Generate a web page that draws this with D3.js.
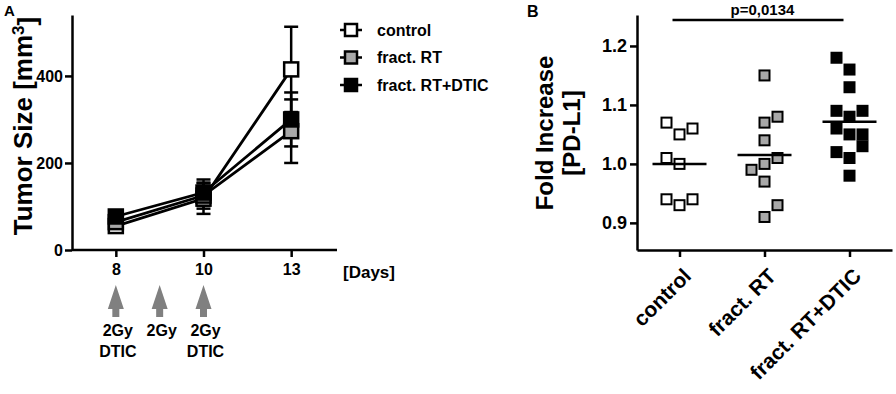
<!DOCTYPE html>
<html>
<head>
<meta charset="utf-8">
<script src="https://cdn.jsdelivr.net/npm/d3@7"></script>
<style>
  body { margin: 0; background: #fff; }
  svg { display: block; font-family: "Liberation Sans", Arial, sans-serif; font-weight: bold; }
  .axis path, .axis line { stroke: #000; stroke-width: 2.5; }
  .axis text { fill: #000; font-weight: bold; }
</style>
</head>
<body>
<svg id="chart" width="896" height="394"></svg>
<script>
// ---- panel A: tumor growth ----
const days = [8, 10, 13];
const groups = ["control", "fract. RT", "fract. RT+DTIC"];
const controlMean = [55, 118, 415];
const controlSem = [8, 35, 98];
const rtMean = [64, 125, 273];
const rtSem = [8, 30, 73];
const rtDticMean = [77, 132, 300];
const rtDticSem = [8, 30, 62];
const tumorTicks = [0, 200, 400];
const treatDays = [8, 9, 10];
const treatLabels = [["2Gy", "DTIC"], ["2Gy"], ["2Gy", "DTIC"]];

// ---- panel B: PD-L1 fold increase, [value, column slot] ----
const controlPts = [[1.07, -1], [1.05, 0], [1.06, 1], [1.01, -1], [1.00, 0], [0.94, -1], [0.93, 0], [0.94, 1]];
const rtPts = [[1.15, 0], [1.07, 0], [1.08, 1], [1.04, 0], [0.99, -1], [1.00, 0], [1.01, 1], [0.97, 0], [0.91, 0], [0.93, 1]];
const rtDticPts = [[1.18, -1], [1.16, 0], [1.13, 0], [1.09, -1], [1.08, 0], [1.09, 1], [1.06, -1], [1.05, 0], [1.05, 1], [1.03, 1], [1.02, -1], [1.01, 0], [0.98, 0]];
const foldTicks = [0.9, 1.0, 1.1, 1.2];
const pValue = "p=0,0134";

const fills = ["#fff", "#a8a8a8", "#000"];
const svg = d3.select("#chart");

// ================= Panel A =================
const gA = svg.append("g");
const xPt = d3.scalePoint().domain(days.map(String)).range([72, 335]).padding(0.5);
const xDay = d3.scaleLinear().domain(days).range(days.map(d => xPt(String(d))));
const yA = d3.scaleLinear().domain([0, 540]).range([250, 15]);

gA.append("g").attr("class", "axis")
  .attr("transform", "translate(72,0)")
  .call(d3.axisLeft(yA).tickValues(tumorTicks).tickSize(7).tickSizeOuter(0))
  .call(g => g.selectAll("text").style("font-size", "16px").attr("x", -9));

gA.append("g").attr("class", "axis")
  .attr("transform", "translate(0,250)")
  .call(d3.axisBottom(xPt).tickSize(7).tickSizeOuter(0))
  .call(g => g.select(".domain").attr("d", "M72,0H337"))
  .call(g => g.selectAll("text").style("font-size", "16px").attr("y", 14));

gA.append("text").attr("x", 343).attr("y", 278).style("font-size", "17px").text("[Days]");
gA.append("text").attr("x", 4).attr("y", 16).style("font-size", "15px").text("A");

const yLabA = gA.append("text")
  .attr("transform", "translate(32,126) rotate(-90)")
  .attr("text-anchor", "middle").style("font-size", "26px");
yLabA.append("tspan").text("Tumor Size [mm");
yLabA.append("tspan").attr("dy", "-0.45em").style("font-size", "17px").text("3");
yLabA.append("tspan").attr("dy", "0.45em").text("]");

const seriesA = [
  { name: groups[0], mean: controlMean, sem: controlSem, fill: fills[0] },
  { name: groups[1], mean: rtMean, sem: rtSem, fill: fills[1] },
  { name: groups[2], mean: rtDticMean, sem: rtDticSem, fill: fills[2] }
];

const line = d3.line().x((d, i) => xDay(days[i])).y(d => yA(d));
const sq = 14;

// error bars first, under everything
seriesA.forEach(s => {
  const g = gA.append("g");
  days.forEach((d, i) => {
    const x = xDay(d);
    const top = yA(s.mean[i] + s.sem[i]);
    const bot = yA(s.mean[i] - s.sem[i]);
    g.append("line").attr("x1", x).attr("x2", x).attr("y1", top).attr("y2", bot)
      .attr("stroke", "#000").attr("stroke-width", 2.5);
    [top, bot].forEach(yy => g.append("line")
      .attr("x1", x - 7).attr("x2", x + 7).attr("y1", yy).attr("y2", yy)
      .attr("stroke", "#000").attr("stroke-width", 2.5));
  });
});

seriesA.forEach(s => {
  const g = gA.append("g");
  g.append("path").datum(s.mean).attr("d", line)
    .attr("fill", "none").attr("stroke", "#000").attr("stroke-width", 2.8);
  g.selectAll("rect").data(s.mean).join("rect")
    .attr("x", (d, i) => xDay(days[i]) - sq / 2)
    .attr("y", d => yA(d) - sq / 2)
    .attr("width", sq).attr("height", sq)
    .attr("fill", s.fill).attr("stroke", "#000").attr("stroke-width", 2.5);
});

// legend
const legY = d3.scalePoint().domain(groups).range([30, 85]);
seriesA.forEach(s => {
  const y = legY(s.name);
  gA.append("line").attr("x1", 340).attr("x2", 362).attr("y1", y).attr("y2", y)
    .attr("stroke", "#000").attr("stroke-width", 2.5);
  gA.append("rect").attr("x", 351 - 6).attr("y", y - 6).attr("width", 12).attr("height", 12)
    .attr("fill", s.fill).attr("stroke", "#000").attr("stroke-width", 2.5);
  gA.append("text").attr("x", 377).attr("y", y).attr("dy", "0.36em")
    .style("font-size", "16px").text(s.name);
});

// treatment arrows
treatDays.forEach((d, i) => {
  const x = xDay(d);
  gA.append("path")
    .attr("d", `M${x},285 L${x + 8},309 L${x + 3.5},309 L${x + 3.5},317 L${x - 3.5},317 L${x - 3.5},309 L${x - 8},309 Z`)
    .attr("fill", "#808080");
  treatLabels[i].forEach((t, j) => {
    gA.append("text").attr("x", x + 2).attr("y", 336 + j * 21)
      .attr("text-anchor", "middle").style("font-size", "16px").text(t);
  });
});

// ================= Panel B =================
const gB = svg.append("g");
const xB = d3.scalePoint().domain(groups).range([637, 892]).padding(0.5);
const yB = d3.scaleLinear().domain([0.854, 1.2525]).range([250, 15]);
const jitter = 13;
const sqB = 10;

gB.append("g").attr("class", "axis")
  .attr("transform", "translate(637,0)")
  .call(d3.axisLeft(yB).tickValues(foldTicks).tickFormat(d3.format(".1f")).tickSize(7).tickSizeOuter(0))
  .call(g => g.selectAll("text").style("font-size", "18px").attr("x", -10));

gB.append("g").attr("class", "axis")
  .attr("transform", "translate(0,250)")
  .call(d3.axisBottom(xB).tickSize(7).tickSizeOuter(0))
  .call(g => g.selectAll("text")
    .style("font-size", "21px")
    .attr("text-anchor", "end")
    .attr("transform", "translate(2,17) rotate(-45)")
    .attr("x", 0).attr("y", 0).attr("dy", "0.7em"));

gB.append("text").attr("x", 527).attr("y", 17).style("font-size", "16px").text("B");

gB.append("text").attr("transform", "translate(553,133) rotate(-90)")
  .attr("text-anchor", "middle").style("font-size", "24px").text("Fold Increase");
gB.append("text").attr("transform", "translate(580,133) rotate(-90)")
  .attr("text-anchor", "middle").style("font-size", "24px").text("[PD-L1]");

// significance bar
gB.append("line").attr("x1", xB(groups[0]) - 7).attr("x2", xB(groups[2]) - 6)
  .attr("y1", 20).attr("y2", 20).attr("stroke", "#000").attr("stroke-width", 2.5);
gB.append("text").attr("x", (xB(groups[0]) + xB(groups[2])) / 2 - 2).attr("y", 15)
  .attr("text-anchor", "middle").style("font-size", "15px").text(pValue);

const seriesB = [
  { name: groups[0], pts: controlPts, fill: fills[0] },
  { name: groups[1], pts: rtPts, fill: fills[1] },
  { name: groups[2], pts: rtDticPts, fill: fills[2] }
];

seriesB.forEach(s => {
  const cx = xB(s.name);
  gB.append("g").selectAll("rect").data(s.pts).join("rect")
    .attr("x", d => cx + d[1] * jitter - sqB / 2)
    .attr("y", d => yB(d[0]) - sqB / 2)
    .attr("width", sqB).attr("height", sqB)
    .attr("fill", s.fill).attr("stroke", "#000").attr("stroke-width", 2);
  const m = d3.mean(s.pts, d => d[0]);
  gB.append("line").attr("x1", cx - 27).attr("x2", cx + 27)
    .attr("y1", yB(m)).attr("y2", yB(m))
    .attr("stroke", "#000").attr("stroke-width", 2.5);
});
</script>
</body>
</html>
